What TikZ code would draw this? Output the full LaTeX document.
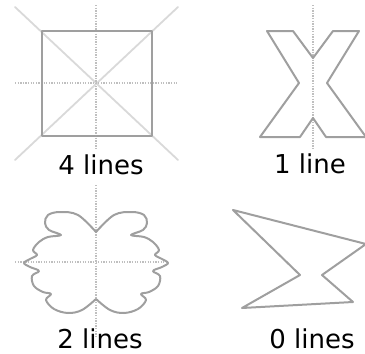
\documentclass[tikz,border=0pt]{standalone}
\usepackage{fontspec}
\setmainfont{DejaVu Sans}
\begin{document}
\begin{tikzpicture}[x=1pt,y=-1pt,line join=round,line cap=round,
  axisline/.style={draw=gray!50,line width=1.6pt,line cap=butt,dash pattern=on 1.3pt off 1.3pt},
  diagline/.style={draw=gray!30,line width=1.8pt},
  outline/.style={draw=gray!75,line width=2pt},
  caption/.style={anchor=base,font=\fontsize{26}{28}\selectfont,inner sep=0pt}]
\useasboundingbox (0,0) rectangle (365,354);
\clip (0,0) rectangle (365,354);
% square
\draw[diagline] (15,7) -- (178,160);
\draw[diagline] (178,7) -- (15,160);
\draw[axisline] (96,5) -- (96,150);
\draw[axisline] (15,83) -- (177,83);
\draw[outline] (42,31) rectangle (152,136);
\node[caption] (sqlabel) at (101,174) {4 lines};
% letter X
\draw[axisline] (313,5) -- (313,150);
\draw[outline] (267,31) -- (293,31) -- (313,58) -- (333,31) -- (359,31) -- (327,83)
  -- (366,137) -- (326,137) -- (313,118) -- (300,137) -- (260,137) -- (299,83) -- cycle;
\node[caption] (xlabel) at (310,173) {1 line};
% wavy shape
\draw[axisline] (96,185) -- (96,337);
\draw[axisline] (15,262) -- (167,262);
\begin{scope}[shift={(96,262)}]
  \foreach \s in {1,-1}
    \draw[outline,xscale=\s] plot[smooth,tension=0.6] coordinates {
      (0,-30) (-18,-47) (-36,-50) (-48,-47) (-51,-39) (-47,-32) (-35,-27)
      (-48,-25) (-57,-20) (-63,-12) (-59,-7) (-66,-3) (-72,1) (-66,5)
      (-57,9) (-64,14) (-62,24) (-53,30) (-45,32) (-50,38) (-42,47)
      (-28,51) (-14,48) (0,37)};
\end{scope}
\node[caption] (wavylabel) at (100,348) {2 lines};
% zigzag
\draw[outline] (233,210) -- (366,244) -- (322,275) -- (353,302) -- (242,308) -- (300,275) -- cycle;
\node[caption] (ziglabel) at (312,348) {0 lines};
\end{tikzpicture}
\end{document}
